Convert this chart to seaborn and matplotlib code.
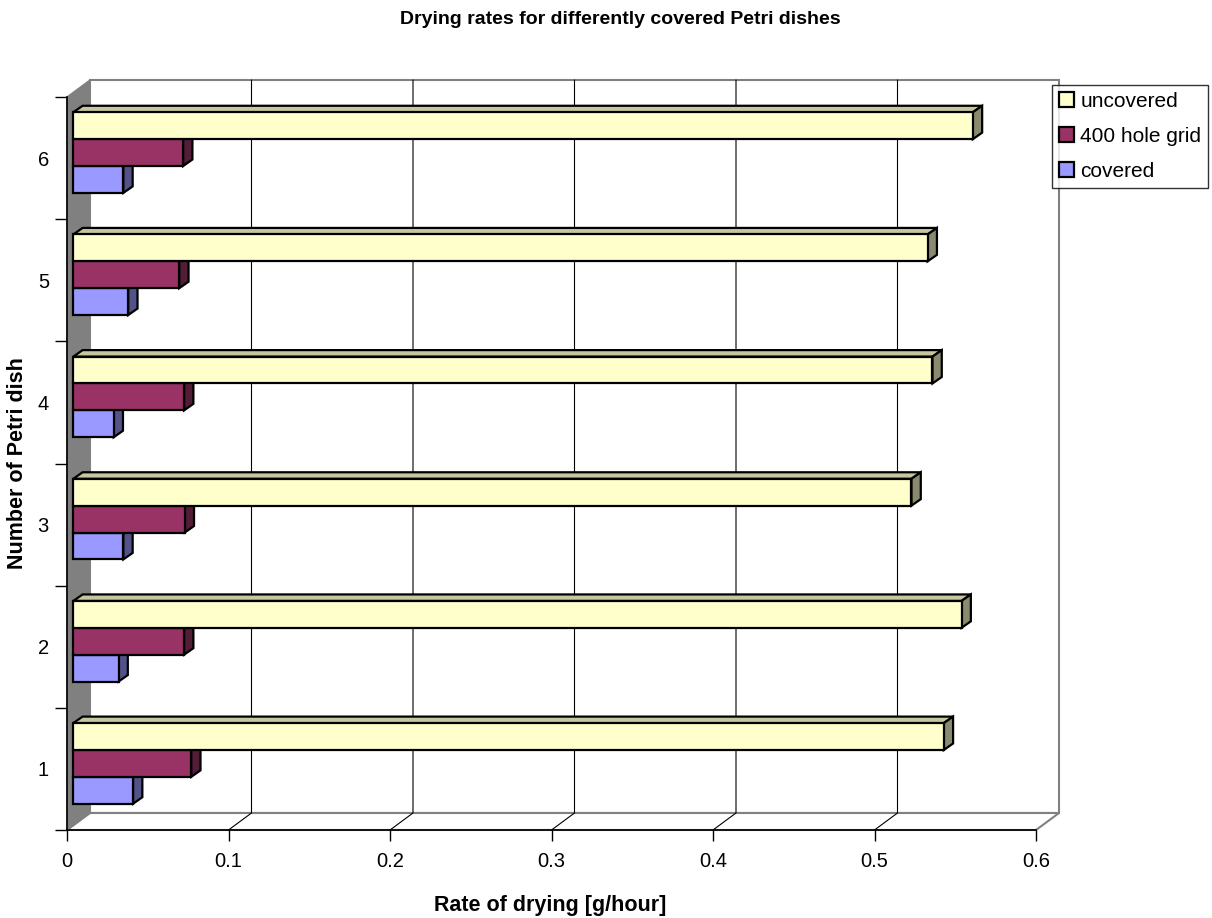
import numpy as np
import pandas as pd
import matplotlib
matplotlib.use("Agg")
import matplotlib.pyplot as plt
import seaborn as sns
from matplotlib.transforms import Affine2D, IdentityTransform
from matplotlib.patches import Polygon, Patch, Rectangle
from matplotlib.colors import to_rgb

# ---- data -------------------------------------------------------------
dishes = ["1", "2", "3", "4", "5", "6"]
uncovered = [0.539, 0.550, 0.519, 0.532, 0.529, 0.557]
grid_400 = [0.073, 0.0686, 0.069, 0.0686, 0.0656, 0.068]
covered = [0.037, 0.028, 0.031, 0.025, 0.034, 0.031]
series = ["uncovered", "400 hole grid", "covered"]
front_colors = ["#FFFFCC", "#993366", "#9999FF"]
x_ticks = [0, 0.1, 0.2, 0.3, 0.4, 0.5, 0.6]
x_tick_labels = ["0", "0.1", "0.2", "0.3", "0.4", "0.5", "0.6"]

df = pd.DataFrame({
    "dish": dishes * 3,
    "series": np.repeat(series, len(dishes)),
    "rate": uncovered + grid_400 + covered,
})

# ---- figure -------------------------------------------------------------
sns.set_style("white")
plt.rcParams["font.family"] = ["Liberation Sans", "DejaVu Sans"]
plt.rcParams.update({"text.color": "black", "axes.labelcolor": "black",
                     "xtick.color": "black", "ytick.color": "black",
                     "xtick.bottom": True, "ytick.left": True})

W, H, DPI = 1212, 918, 100
fig = plt.figure(figsize=(W / DPI, H / DPI), dpi=DPI)
ax = fig.add_axes([67 / W, (H - 830) / H, (1036 - 67) / W, (830 - 97) / H])
ax.patch.set_visible(False)

sns.barplot(data=df, y="dish", x="rate", hue="series", order=dishes[::-1],
            hue_order=series, palette=front_colors, orient="h", width=0.66,
            saturation=1, errorbar=None, edgecolor="black", linewidth=1.6,
            legend=False, ax=ax)
ax.set_xlim(0, 0.6)
ax.set_ylim(len(dishes) - 0.5, -0.5)
bars = [p for p in ax.patches if isinstance(p, Rectangle)]

# 3-D geometry in pixels: wall depth, bar front offset and bar depth
wall_d = np.array([23.0, 17.0])
bar_front = np.array([6.3, 5.5])
bar_d = np.array([9.3, 6.5])


def shade(c, f):
    r, g, b = to_rgb(c)
    return (r * f, g * f, b * f)


# ---- walls, floor and gridlines -------------------------------------------
ident = IdentityTransform()
bl, br, tl, tr = (ax.transAxes.transform(p) for p in [(0, 0), (1, 0), (0, 1), (1, 1)])
wall_grey = "#808080"
ax.add_patch(Polygon([bl + wall_d, br + wall_d, tr + wall_d, tl + wall_d], closed=True,
                     facecolor="white", edgecolor=wall_grey, lw=1.5,
                     transform=ident, zorder=0.2, clip_on=False))
ax.add_patch(Polygon([bl, br, br + wall_d, bl + wall_d], closed=True,
                     facecolor="white", edgecolor=wall_grey, lw=1.5,
                     transform=ident, zorder=0.3, clip_on=False))
ax.add_patch(Polygon([bl, tl, tl + wall_d, bl + wall_d], closed=True,
                     facecolor=wall_grey, edgecolor=wall_grey, lw=1.0,
                     transform=ident, zorder=0.4, clip_on=False))
for v in x_ticks[1:-1]:
    fx0 = ax.transData.transform((v, ax.get_ylim()[0]))
    fx1 = ax.transData.transform((v, ax.get_ylim()[1]))
    ax.add_line(plt.Line2D([fx0[0], fx0[0] + wall_d[0], fx1[0] + wall_d[0]],
                           [fx0[1], fx0[1] + wall_d[1], fx1[1] + wall_d[1]],
                           color="black", lw=0.8, transform=ident,
                           zorder=0.6, clip_on=False))

# ---- bars with top and side faces ----------------------------------------
rgb_front = [np.array(to_rgb(c)) for c in front_colors]
for p in bars:
    fc = np.array(p.get_facecolor()[:3])
    k = int(np.argmin([np.sum((fc - c) ** 2) for c in rgb_front]))
    base = 5 - k
    x0, y0, w, h = p.get_x(), p.get_y(), p.get_width(), p.get_height()
    (ax0, ay0), (ax1, ay1) = ax.transData.transform([(x0, y0), (x0 + w, y0 + h)])
    left, right = sorted((ax0, ax1))
    bottom, top = sorted((ay0, ay1))
    left += bar_front[0]; right += bar_front[0]
    bottom += bar_front[1]; top += bar_front[1]
    top_face = [(left, top), (right, top), (right + bar_d[0], top + bar_d[1]),
                (left + bar_d[0], top + bar_d[1])]
    side_face = [(right, bottom), (right, top), (right + bar_d[0], top + bar_d[1]),
                 (right + bar_d[0], bottom + bar_d[1])]
    ax.add_patch(Polygon(top_face, closed=True, facecolor=shade(front_colors[k], 0.78),
                         edgecolor="black", lw=1.6, joinstyle="miter",
                         transform=ident, zorder=base + 0.1, clip_on=False))
    ax.add_patch(Polygon(side_face, closed=True, facecolor=shade(front_colors[k], 0.54),
                         edgecolor="black", lw=1.6, joinstyle="miter",
                         transform=ident, zorder=base + 0.1, clip_on=False))
    p.set_transform(ax.transData + Affine2D().translate(*bar_front))
    p.set_zorder(base + 0.2)
    p.set_clip_on(False)
    p.set_joinstyle("miter")

# ---- axes, ticks and labels ----------------------------------------------
for s in ["top", "right"]:
    ax.spines[s].set_visible(False)
for s in ["left", "bottom"]:
    ax.spines[s].set_color("black")
    ax.spines[s].set_linewidth(1.2)
    ax.spines[s].set_zorder(1)

ax.set_xticks(x_ticks)
ax.set_xticklabels(x_tick_labels)
ax.set_yticks(np.arange(-0.5, len(dishes), 1.0))
ax.set_yticklabels([])
ax.set_yticks(np.arange(len(dishes)), minor=True)
ax.set_yticklabels(dishes[::-1], minor=True)
ax.tick_params(axis="x", which="major", direction="out", length=8, width=1,
               color="black", pad=7.5, labelsize=14.5, labelcolor="black",
               bottom=True)
ax.tick_params(axis="y", which="major", direction="out", length=8.6, width=1,
               color="black", left=True)
ax.tick_params(axis="y", which="minor", length=0, pad=13, labelsize=14.5,
               labelcolor="black")
ax.set_xlabel("")
ax.set_ylabel("")
ax.grid(False)

fig.text(620 / W, 1 - 19 / H, "Drying rates for differently covered Petri dishes",
         ha="center", va="center", fontsize=14, fontweight="bold", color="black")
fig.text(550 / W, 1 - 905 / H, "Rate of drying [g/hour]",
         ha="center", va="center", fontsize=15.5, fontweight="bold", color="black")
fig.text(18 / W, 1 - 463 / H, "Number of Petri dish", rotation=90,
         ha="center", va="center", fontsize=15.5, fontweight="bold", color="black")

handles = [Patch(facecolor=c, edgecolor="black", lw=1.6) for c in front_colors]
leg = fig.legend(handles, series, loc="upper left",
                 bbox_to_anchor=(1052 / W, 1 - 85 / H), fontsize=15,
                 frameon=True, fancybox=False, edgecolor="black",
                 handlelength=0.72, handleheight=0.72, handletextpad=0.3,
                 labelspacing=0.77, borderpad=0.33, borderaxespad=0)
leg.get_frame().set_linewidth(1.0)
for t in leg.get_texts():
    t.set_color("black")

fig.savefig("out.png", dpi=DPI)
